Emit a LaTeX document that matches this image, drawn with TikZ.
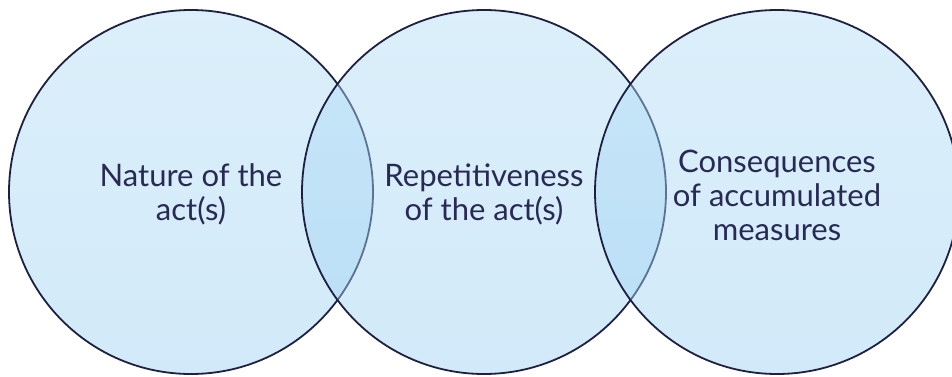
\documentclass[tikz,border=0pt]{standalone}
\usepackage{fontspec}
\setmainfont{Lato}
\definecolor{kreisoben}{RGB}{178,221,246}
\definecolor{kreisunten}{RGB}{156,208,242}
\definecolor{kreisrand}{RGB}{30,32,64}
\definecolor{schrift}{RGB}{40,42,84}

\begin{document}
\begin{tikzpicture}[x=1pt,y=1pt,
    kreis/.style={draw=kreisrand, line width=1.8pt, top color=kreisoben, bottom color=kreisunten, fill opacity=0.46, draw opacity=1},
    beschriftung/.style={align=center, text=schrift, font=\fontsize{31}{34}\selectfont, inner sep=0pt}]

% Rahmen
\useasboundingbox (0,0) rectangle (952,376);

% Radius und Abstand
\def\r{182}
\def\d{293}
\def\m{184}

% Kreise
\coordinate (A) at (191,\m);
\coordinate (B) at ({191+\d},\m);
\coordinate (C) at ({191+2*\d},\m);
\path[kreis] (A) circle (\r);
\path[kreis] (B) circle (\r);
\path[kreis] (C) circle (\r);

% Texte
\node[beschriftung] (natur) at ([yshift=-2]A) {Nature of the\\act(s)};
\node[beschriftung] (wiederholung) at ([yshift=-2]B) {Repetitiveness\\of the act(s)};
\node[beschriftung] (folgen) at ([yshift=-3]C) {Consequences\\of accumulated\\measures};
\end{tikzpicture}
\end{document}
